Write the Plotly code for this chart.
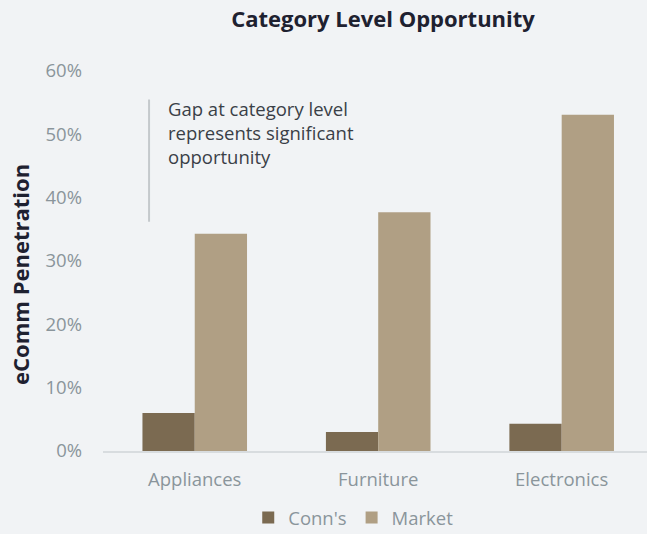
import plotly.graph_objects as go

# Category-level eComm penetration, Conn's vs. overall market
categories = ["Appliances", "Furniture", "Electronics"]
conns_pct = [6.0, 3.0, 4.3]
market_pct = [34.3, 37.7, 53.1]
y_ticks = [0, 10, 20, 30, 40, 50, 60]
y_tick_labels = [f"{v}%" for v in y_ticks]

BG = "#f1f3f5"
CONNS = "#7b6a51"
MARKET = "#b09f84"
GRAY = "#8a959b"
DARK = "#1e2130"
FONT = "Open Sans"

fig = go.Figure()
fig.add_trace(go.Bar(
    name="Conn's", x=categories, y=conns_pct,
    marker=dict(color=CONNS, line=dict(width=0)),
))
fig.add_trace(go.Bar(
    name="Market", x=categories, y=market_pct,
    marker=dict(color=MARKET, line=dict(width=0)),
))

# Callout bracket and note
fig.add_shape(type="line", xref="x", yref="y",
              x0=-0.249, x1=-0.249, y0=36.2, y1=55.5,
              line=dict(color="#c4c9cc", width=2))
fig.add_annotation(
    xref="x", yref="y", x=-0.155, y=56.4,
    xanchor="left", yanchor="top", align="left", showarrow=False,
    text="Gap at category level<br>represents significant<br>opportunity",
    font=dict(family=FONT, size=18.5, color="#3a3f47"),
)

# Vertical value-axis caption
fig.add_annotation(
    xref="paper", yref="paper", x=-0.1526, y=0.466,
    xanchor="center", yanchor="middle", showarrow=False, textangle=-90,
    text="<b>eComm Penetration</b>",
    font=dict(family=FONT, size=22, color=DARK),
)

fig.update_layout(
    width=647, height=534,
    paper_bgcolor=BG, plot_bgcolor=BG,
    margin=dict(l=103, r=0, t=71, b=83, autoexpand=False),
    font=dict(family=FONT, color=GRAY),
    title=dict(text="<b>Category Level Opportunity</b>", x=383 / 647, xanchor="center",
               y=1 - 19 / 534, yanchor="middle",
               font=dict(family=FONT, size=22, color=DARK)),
    barmode="group", bargap=0.43, bargroupgap=0,
    showlegend=True,
    legend=dict(orientation="h", x=0.46, xanchor="center", y=-0.176, yanchor="middle",
                font=dict(family=FONT, size=18.5, color=GRAY),
                bgcolor="rgba(0,0,0,0)", itemwidth=30, tracegroupgap=0),
)
fig.update_xaxes(
    range=[-0.5, 2.465], showgrid=False, zeroline=False,
    showline=True, linecolor="#d8dcdf", linewidth=1.5,
    tickfont=dict(family=FONT, size=18.5, color=GRAY), ticks="",
    ticklabelstandoff=11,
)
fig.update_yaxes(
    range=[0, 60], tickvals=y_ticks, ticktext=y_tick_labels,
    showgrid=False, zeroline=False, showline=False, ticks="",
    tickfont=dict(family=FONT, size=18.5, color=GRAY),
    ticklabelstandoff=20,
)

fig.write_html("out.html")
